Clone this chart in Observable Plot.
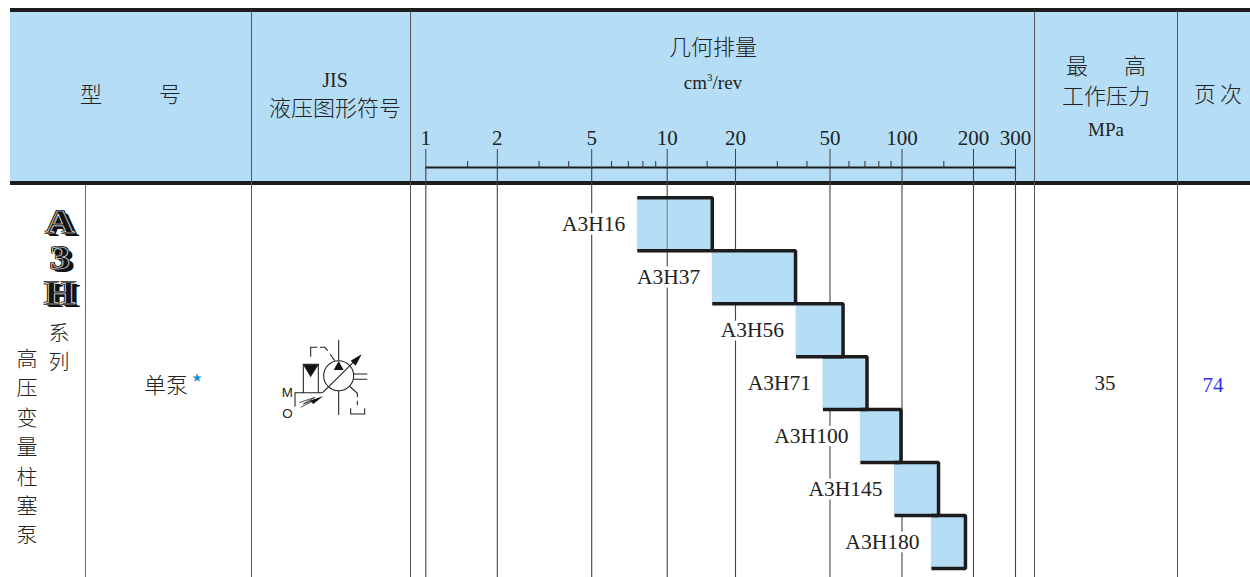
<!DOCTYPE html>
<html><head><meta charset="utf-8">
<script src="https://cdn.jsdelivr.net/npm/d3@7"></script>
<script src="https://cdn.jsdelivr.net/npm/@observablehq/plot@0.6"></script>
<style>
html,body{margin:0;padding:0;background:#fff;}
#page{position:relative;width:1250px;height:577px;overflow:hidden;font-family:"Liberation Serif","Noto Sans CJK SC",serif;font-weight:300;color:#222;}
#page>div{position:absolute;}
.t{transform:translate(-50%,-50%);white-space:nowrap;line-height:1;font-size:22px;}
.logo{font-family:"Liberation Serif";font-weight:700;font-size:33px;color:#141414;-webkit-text-stroke:.7px #e4e4e4;transform:translate(-50%,-50%) scaleX(1.22);
text-shadow:-1px -1px 0 #111,1px -1px 0 #111,-1px 1px 0 #111,2px 2px 0 #111,3px 3px 0 #111,4px 3px 0 #111;}
#chart{left:0;top:0;}
#chart svg{background:transparent;display:block;overflow:visible;}
#sym{left:260px;top:330px;}
</style></head><body>
<div id="page"></div>
<script>
// Displacement ranges, cm3/rev
const models = ["A3H16","A3H37","A3H56","A3H71","A3H100","A3H145","A3H180"];
const minDisp = [7.6,15.8,36,46.7,67,93,133];
const maxDisp = [15.8,35.8,56.7,71.4,99,142.5,185];
const majorTicks = [1,2,5,10,20,50,100,200,300];
const minorTicks = [1.5,3,4,6,7,8,9,15,30,40,60,70,80,90,150];
const scaleRange = [425.3,496.8,591.2,666.7,735,829.5,901.5,973,1015];

const page = document.getElementById("page");
const BLUE = "#b5def6", INK = "#1c1c1c";
function box(l,t,w,h,c){const d=document.createElement("div");d.style.cssText=`left:${l}px;top:${t}px;width:${w}px;height:${h}px;background:${c}`;page.appendChild(d);}
function txt(s,x,y,size,color,cls){const d=document.createElement("div");d.className=cls||"t";d.innerHTML=s;d.style.left=x+"px";d.style.top=y+"px";if(size)d.style.fontSize=size+"px";if(color)d.style.color=color;page.appendChild(d);}

// table frame
box(10,11,1240,170,BLUE);
box(10,8,1240,3.5,INK);
box(10,181,1240,4,INK);
for(const x of [251,410,1034,1177]) box(x,11,1,566,"#555");
box(85,185,1,392,"#666");

// table text
txt("型",91,95); txt("号",170,95);
txt("JIS",335,80,20); txt("液压图形符号",335,109);
txt("几何排量",713,48);
txt('cm<sup style="font-size:11px;line-height:0">3</sup>/rev',713,82,19);
txt("最",1077,67); txt("高",1135,67); txt("工作压力",1106,97); txt("MPa",1106,129,19);
txt("页",1205,95); txt("次",1231,95);
txt("A",60,222,null,null,"t logo"); txt("3",60,258,null,null,"t logo"); txt("H",60,293,null,null,"t logo");
txt("系",59,333,21); txt("列",59,362,21);
[..."高压变量柱塞泵"].forEach((c,i)=>txt(c,27,359+i*29.4,21));
txt("单泵",166,386);
txt("★",197,378,10,"#0a8fd8");
txt("35",1105,383,21);
txt("74",1213,385,21,"#2a36d8");

// circuit symbol
const sym=document.createElement("div");sym.id="sym";
sym.innerHTML=`<svg width="130" height="100" viewBox="0 0 390 300" fill="none" stroke="#222" stroke-width="3.2">
<circle cx="236" cy="137" r="45"/>
<path d="M236 30V92M236 182V255M188 188L285 92M280 132H322M280 148H322"/>
<path d="M305 73L272 92L287 107Z" fill="#111" stroke="none"/>
<path d="M236 93L221 120H251Z" fill="#111" stroke="none"/>
<path d="M130 188V103H175V188M105 230V188H188"/>
<path d="M131 104H174L152 139Z" fill="#111"/>
<path d="M152 80V52H172M180 52H195L203 62M210 72L224 92" />
<path d="M268 168L292 190V202M292 212V226M272 235V252H314V235"/>
<path d="M122 232L168 208L130 222L165 202L118 218" stroke-width="2.4"/>
<path d="M190 198L150 212L160 222Z" fill="#111" stroke="none"/>
<text x="82" y="201" font-family="Liberation Sans" font-size="40" fill="#222" stroke="none" text-anchor="middle">M</text>
<text x="82" y="263" font-family="Liberation Sans" font-size="40" fill="#222" stroke="none" text-anchor="middle">O</text>
</svg>`;
page.appendChild(sym);

// chart
const rows = models.map((model,i)=>({model,i,lo:minDisp[i],hi:maxDisp[i]}));
const outline = rows.flatMap(d=>[
  {model:d.model,x:d.lo,y:d.i},{model:d.model,x:d.hi,y:d.i},
  {model:d.model,x:d.hi,y:d.i+1},{model:d.model,x:d.lo,y:d.i+1}]);
const axisRow = -0.572, bottomRow = 7.17;

const svg = Plot.plot({
  width:1250,height:577,
  marginTop:167,marginBottom:0,marginLeft:0,marginRight:0,
  style:{background:"transparent",overflow:"visible"},
  x:{type:"log",domain:majorTicks,range:scaleRange,label:null,axis:null},
  y:{domain:[axisRow,bottomRow],reverse:true,axis:null,label:null},
  marks:[
    Plot.ruleX(majorTicks,{stroke:"#444",strokeWidth:1.1}),
    Plot.rect(rows,{x1:"lo",x2:"hi",y1:"i",y2:d=>d.i+1,fill:BLUE}),
    Plot.ruleX([10],{y1:0,y2:1,stroke:"#7f8c96",strokeWidth:1.2}),
    Plot.line(outline,{x:"x",y:"y",z:"model",stroke:INK,strokeWidth:3.5,strokeLinecap:"butt",strokeLinejoin:"miter"}),
    Plot.text(rows,{x:"lo",y:d=>d.i+0.5,text:"model",textAnchor:"end",dx:-12,fontSize:21.5,fontFamily:"Liberation Serif",fill:"#222",stroke:"#fff",strokeWidth:7,paintOrder:"stroke"}),
    Plot.ruleY([axisRow],{x1:1,x2:300,stroke:INK,strokeWidth:2}),
    Plot.axisX(minorTicks,{anchor:"top",tickSize:7,text:null,label:null,stroke:"#333"}),
    Plot.axisX(majorTicks,{anchor:"top",tickSize:19,text:null,label:null,stroke:"#444"}),
    Plot.text(majorTicks,{x:d=>d,y:axisRow,dy:-29,text:d=>String(d),fontSize:21,fontFamily:"Liberation Serif",fill:"#222"})
  ]
});
const wrap=document.createElement("div");wrap.id="chart";wrap.appendChild(svg);page.appendChild(wrap);
</script>
</body></html>
